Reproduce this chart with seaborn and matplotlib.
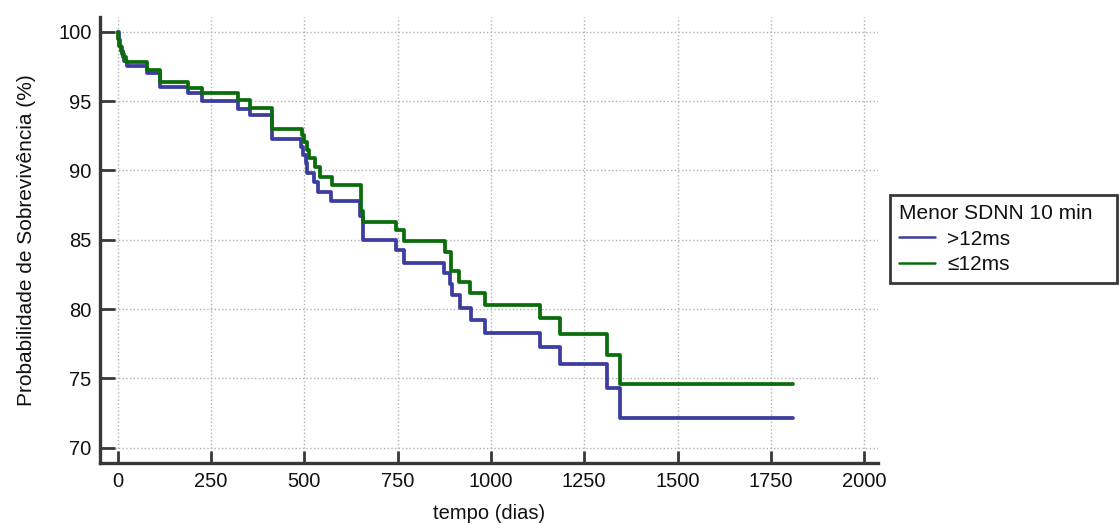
import matplotlib
matplotlib.use("Agg")
import matplotlib.pyplot as plt
from matplotlib import font_manager
from matplotlib.lines import Line2D
import pandas as pd
import seaborn as sns

# Kaplan-Meier estimates: time (days) and survival probability (%) per group
groups = [">12ms", "≤12ms"]

t_gt12 = [0, 3, 7, 12, 18, 25, 79, 114, 188, 226, 322, 355, 415,
          491, 498, 505, 508, 525, 538, 571, 650, 658, 745, 767,
          875, 890, 895, 917, 946, 983, 1132, 1185, 1310, 1346, 1809]
s_gt12 = [100, 99.4, 98.9, 98.4, 97.9, 97.5, 97.0, 96.0, 95.58, 95.0, 94.45, 93.96, 92.27,
          91.71, 91.11, 90.51, 89.83, 89.19, 88.46, 87.8, 86.7, 84.95, 84.25, 83.3,
          82.6, 81.8, 81.0, 80.06, 79.21, 78.26, 77.29, 76.04, 74.33, 72.17, 72.17]

t_le12 = [0, 2, 5, 9, 15, 22, 80, 114, 188, 226, 322, 355, 415,
          493, 500, 507, 514, 529, 541, 574, 652, 658, 745, 767,
          877, 893, 915, 945, 983, 1132, 1185, 1310, 1346, 1809]
s_le12 = [100, 99.5, 99.0, 98.6, 98.2, 97.85, 97.25, 96.4, 95.96, 95.55, 95.05, 94.52, 93.0,
          92.55, 92.07, 91.47, 90.87, 90.22, 89.55, 88.98, 87.1, 86.3, 85.68, 84.9,
          84.1, 82.75, 81.95, 81.14, 80.3, 79.34, 78.2, 76.7, 74.6, 74.6]

x_ticks = [0, 250, 500, 750, 1000, 1250, 1500, 1750, 2000]
y_ticks = [70, 75, 80, 85, 90, 95, 100]

colors = {">12ms": "#3b3da0", "≤12ms": "#0b6c0b"}
axis_color = "#383838"
text_color = "#111111"

sns.set_style("white")
plt.rcParams["font.family"] = ["Liberation Sans", "DejaVu Sans"]
available = {f.name for f in font_manager.fontManager.ttflist}
narrow = ["Liberation Sans Narrow", "Liberation Sans", "DejaVu Sans"] \
    if "Liberation Sans Narrow" in available else ["Liberation Sans", "DejaVu Sans"]

df = pd.concat([
    pd.DataFrame({"tempo": t_gt12, "sobrevivencia": s_gt12, "grupo": groups[0]}),
    pd.DataFrame({"tempo": t_le12, "sobrevivencia": s_le12, "grupo": groups[1]}),
], ignore_index=True)

fig = plt.figure(figsize=(11.19, 5.24), dpi=100)
ax = fig.add_axes([100 / 1119, 61 / 524, 778 / 1119, 446 / 524])

sns.lineplot(data=df, x="tempo", y="sobrevivencia", hue="grupo", hue_order=groups,
             palette=colors, estimator=None, sort=False, drawstyle="steps-post",
             linewidth=2.7, legend=False, ax=ax)

ax.set_xlim(-47, 2037)
ax.set_ylim(68.9, 101.06)
ax.set_xticks(x_ticks)
ax.set_yticks(y_ticks)
ax.grid(True, linestyle=":", color="#b0b0b0", linewidth=1.0)

for side in ("top", "right"):
    ax.spines[side].set_visible(False)
for side in ("left", "bottom"):
    ax.spines[side].set_color(axis_color)
    ax.spines[side].set_linewidth(2.4)

ax.tick_params(axis="y", left=True, direction="in", length=11, width=2.0, color=axis_color,
               pad=6, labelsize=14.5, labelcolor=text_color)
ax.tick_params(axis="x", bottom=True, direction="in", length=9, width=2.0, color=axis_color,
               pad=6.5, labelsize=14.5, labelcolor=text_color)
for lab in ax.get_xticklabels():
    lab.set_family(narrow)

ax.set_xlabel("tempo (dias)", fontsize=14.5, family=narrow, labelpad=9, color=text_color)
ax.set_ylabel("Probabilidade de Sobrevivência (%)", fontsize=15, labelpad=16, color=text_color)

handles = [Line2D([], [], color=colors[g], linewidth=1.8) for g in groups]
leg = ax.legend(handles, groups, title="Menor SDNN 10 min",
                loc="upper left", mode="expand",
                bbox_to_anchor=(890 / 1119, 1 - 285 / 524, 227 / 1119, 90 / 524),
                bbox_transform=fig.transFigure, borderaxespad=0,
                fontsize=15, title_fontsize=15, alignment="left",
                frameon=True, fancybox=False, framealpha=1,
                edgecolor=axis_color, handlelength=1.7, handletextpad=0.6,
                labelspacing=0.3, borderpad=0.45)
leg.get_frame().set_linewidth(2.0)
for txt in leg.get_texts() + [leg.get_title()]:
    txt.set_color(text_color)

fig.savefig("out.png", dpi=100)
